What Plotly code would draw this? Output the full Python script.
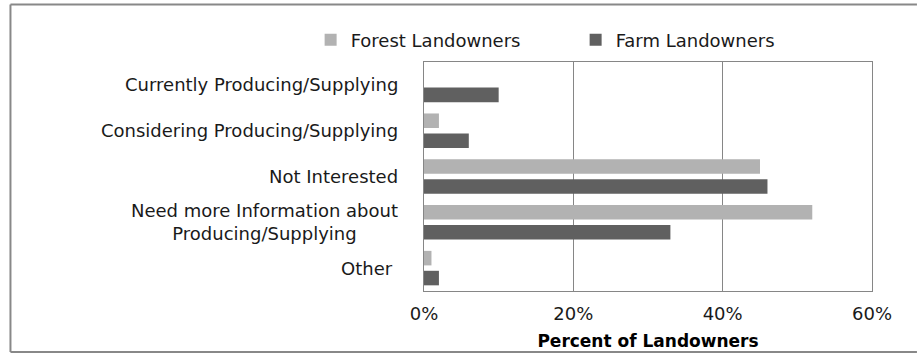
import plotly.graph_objects as go

# Survey responses (percent of landowners)
categories = [
    "Currently Producing/Supplying",
    "Considering Producing/Supplying",
    "Not Interested",
    "Need more Information about<br>Producing/Supplying",
    "Other ",
]
forest_pct = [0, 2, 45, 52, 1]
farm_pct = [10, 6, 46, 33, 2]
x_ticks = [0, 20, 40, 60]
x_tick_labels = ["0%", "20%", "40%", "60%"]

W, H = 918, 356
PL, PR, PT, PB = 423.5, 872.0, 62.0, 290.7  # plot-area edges in px
FONT = "DejaVu Sans"
TXT = "#1a1a1a"

def px_x(p):
    return (p - PL) / (PR - PL)

def px_y(p):
    return (PB - p) / (PB - PT)

fig = go.Figure()
fig.add_trace(go.Bar(
    y=categories, x=forest_pct, orientation="h", name="Forest Landowners",
    marker=dict(color="#b2b2b2", line=dict(width=0)),
))
fig.add_trace(go.Bar(
    y=categories, x=farm_pct, orientation="h", name="Farm Landowners",
    marker=dict(color="#606060", line=dict(width=0)),
))

# Category labels, centred text block right-aligned to the axis
annotations = []
for c in categories:
    annotations.append(dict(
        x=px_x(399), xref="paper", y=c, yref="y", text=c,
        xanchor="right", yanchor="middle", align="center", showarrow=False,
        font=dict(family=FONT, size=18, color=TXT),
    ))

# Outer chart frame: left, top and bottom edges (open on the right)
frame = dict(type="line", xref="paper", yref="paper",
             line=dict(color="#888888", width=2), layer="below")
x_left, x_right = px_x(9.5), px_x(917)
y_top, y_bot = px_y(4.5), px_y(351.5)
shapes = [
    dict(frame, x0=x_left, x1=x_left, y0=y_bot, y1=y_top),
    dict(frame, x0=x_left, x1=x_right, y0=y_top, y1=y_top),
    dict(frame, x0=x_left, x1=x_right, y0=y_bot, y1=y_bot),
]

fig.update_layout(
    width=W, height=H,
    margin=dict(l=PL, r=W - PR, t=PT, b=H - PB, autoexpand=False),
    paper_bgcolor="white", plot_bgcolor="white",
    barmode="group", bargap=0.13, bargroupgap=0.27,
    font=dict(family=FONT, size=18, color=TXT),
    showlegend=True,
    legend=dict(
        orientation="h", x=px_x(310), y=px_y(40), xanchor="left", yanchor="middle",
        font=dict(family=FONT, size=18, color=TXT), traceorder="normal",
        entrywidth=220, entrywidthmode="pixels", bgcolor="rgba(0,0,0,0)",
    ),
    xaxis=dict(
        range=[0, 60], tickvals=x_ticks, ticktext=x_tick_labels,
        showgrid=True, gridcolor="#868686", gridwidth=1,
        showline=True, linecolor="#868686", linewidth=1, mirror=True,
        zeroline=False, ticks="", ticklabelstandoff=6, automargin=False,
        tickfont=dict(family=FONT, size=18, color=TXT),
        title=dict(text="<b>Percent of Landowners</b>", standoff=12,
                   font=dict(family=FONT, size=17, color="#000000")),
    ),
    yaxis=dict(
        autorange="reversed", showticklabels=False, ticks="", automargin=False,
        showgrid=False, showline=True, linecolor="#868686", linewidth=1, mirror=True,
    ),
    annotations=annotations,
    shapes=shapes,
)

fig.write_html("out.html")
